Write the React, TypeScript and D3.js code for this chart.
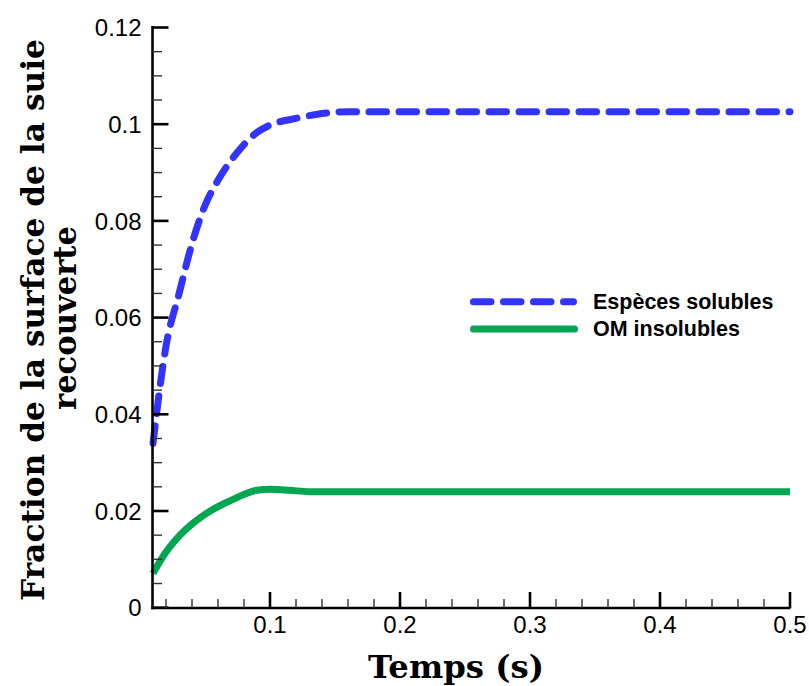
import React from "react";
import * as d3 from "d3";

const timeSoluble = [0.01, 0.02, 0.03, 0.04, 0.05, 0.06, 0.07, 0.08, 0.09, 0.1, 0.12, 0.14, 0.16, 0.2, 0.3, 0.4, 0.5];
const valSoluble = [0.034, 0.0541, 0.0649, 0.0753, 0.0832, 0.0884, 0.0925, 0.0958, 0.0983, 0.0998, 0.1012, 0.1022, 0.1026, 0.1026, 0.1026, 0.1026, 0.1026];

const timeInsoluble = [0.01, 0.02, 0.03, 0.04, 0.05, 0.06, 0.07, 0.08, 0.09, 0.1, 0.115, 0.13, 0.2, 0.3, 0.4, 0.5];
const valInsoluble = [0.0071, 0.0115, 0.0148, 0.0173, 0.0193, 0.0209, 0.0222, 0.0234, 0.0243, 0.0245, 0.0243, 0.024, 0.024, 0.024, 0.024, 0.024];

const xTicks = [0.1, 0.2, 0.3, 0.4, 0.5];
const xTickLabels = ["0.1", "0.2", "0.3", "0.4", "0.5"];
const yTicks = [0, 0.02, 0.04, 0.06, 0.08, 0.1, 0.12];
const yTickLabels = ["0", "0.02", "0.04", "0.06", "0.08", "0.1", "0.12"];
const seriesNames = ["Espèces solubles", "OM insolubles"];
const xTitle = "Temps (s)";
const yTitleLines = ["Fraction de la surface de la suie", "recouverte"];

export default function App() {
  const x = d3.scaleLinear().domain([0.01, 0.5]).range([153, 790]);
  const y = d3.scaleLinear().domain([0, 0.12]).range([607.7, 27.5]);
  const line = d3
    .line<[number, number]>()
    .x((d) => x(d[0]))
    .y((d) => y(d[1]))
    .curve(d3.curveMonotoneX);
  const blue = line(timeSoluble.map((t, i) => [t, valSoluble[i]] as [number, number])) || "";
  const green = line(timeInsoluble.map((t, i) => [t, valInsoluble[i]] as [number, number])) || "";

  const xMinor = d3.range(0.02, 0.5001, 0.02).filter((v) => Math.abs(v * 10 - Math.round(v * 10)) > 1e-6);
  const yMinor = d3.range(0.005, 0.12, 0.005).filter((v) => Math.abs(v * 50 - Math.round(v * 50)) > 1e-6);

  const axisX0 = 152.5;
  const axisY0 = 608;
  const tickFont = "Liberation Sans, Arial, sans-serif";
  const titleFont = "DejaVu Serif, serif";

  return (
    <svg width={809} height={686} style={{ position: "absolute", left: 0, top: 0, background: "#fff" }}>
      <rect x={0} y={0} width={809} height={686} fill="#fff" />
      {/* data lines */}
      <path d={green} fill="none" stroke="#00a651" strokeWidth={7} strokeLinejoin="round" />
      <path
        d={blue}
        fill="none"
        stroke="#3333ff"
        strokeWidth={7}
        strokeDasharray="17.5 12.5"
        strokeLinecap="round"
        strokeLinejoin="round"
      />
      {/* axes */}
      <line x1={axisX0} y1={26} x2={axisX0} y2={axisY0 + 1.2} stroke="#000" strokeWidth={2.6} />
      <line x1={axisX0 - 1.2} y1={axisY0} x2={790.5} y2={axisY0} stroke="#000" strokeWidth={2.6} />
      {yTicks.map((v) => (
        <line key={"ym" + v} x1={axisX0} x2={axisX0 + 16} y1={y(v)} y2={y(v)} stroke="#000" strokeWidth={2.6} />
      ))}
      {yMinor.map((v) => (
        <line key={"yn" + v} x1={axisX0} x2={axisX0 + 9.5} y1={y(v)} y2={y(v)} stroke="#333" strokeWidth={1.4} />
      ))}
      {xTicks.map((v) => (
        <line key={"xm" + v} x1={x(v)} x2={x(v)} y1={axisY0} y2={axisY0 - 16} stroke="#000" strokeWidth={2.6} />
      ))}
      {xMinor.map((v) => (
        <line key={"xn" + v} x1={x(v)} x2={x(v)} y1={axisY0} y2={axisY0 - 9} stroke="#333" strokeWidth={1.4} />
      ))}
      {/* tick labels */}
      {yTicks.map((v, i) => (
        <text
          key={"yl" + v}
          x={141.5}
          y={y(v)}
          dy="0.36em"
          textAnchor="end"
          fontFamily={tickFont}
          fontSize={24}
          fill="#000"
        >
          {yTickLabels[i]}
        </text>
      ))}
      {xTicks.map((v, i) => (
        <text
          key={"xl" + v}
          x={x(v)}
          y={633}
          textAnchor="middle"
          fontFamily={tickFont}
          fontSize={24}
          fill="#000"
        >
          {xTickLabels[i]}
        </text>
      ))}
      {/* titles */}
      <text
        x={456}
        y={678}
        textAnchor="middle"
        fontFamily={titleFont}
        fontWeight="bold"
        fontSize={32}
        textLength={176}
        lengthAdjust="spacingAndGlyphs"
        fill="#000"
      >
        {xTitle}
      </text>
      <text
        transform="translate(44,320) rotate(-90)"
        textAnchor="middle"
        fontFamily={titleFont}
        fontWeight="bold"
        fontSize={32}
        textLength={562}
        lengthAdjust="spacingAndGlyphs"
        fill="#000"
      >
        {yTitleLines[0]}
      </text>
      <text
        transform="translate(76,318) rotate(-90)"
        textAnchor="middle"
        fontFamily={titleFont}
        fontWeight="bold"
        fontSize={32}
        textLength={184}
        lengthAdjust="spacingAndGlyphs"
        fill="#000"
      >
        {yTitleLines[1]}
      </text>
      {/* legend */}
      <line
        x1={473.5}
        x2={573.5}
        y1={301.7}
        y2={301.7}
        stroke="#3333ff"
        strokeWidth={7}
        strokeDasharray="17.5 12.5"
        strokeLinecap="round"
      />
      <line x1={473.5} x2={574.5} y1={329} y2={329} stroke="#00a651" strokeWidth={7} strokeLinecap="round" />
      <text x={593} y={309} fontFamily={tickFont} fontWeight="bold" fontSize={21.5} fill="#000">
        {seriesNames[0]}
      </text>
      <text x={593} y={336} fontFamily={tickFont} fontWeight="bold" fontSize={21.5} fill="#000">
        {seriesNames[1]}
      </text>
    </svg>
  );
}
